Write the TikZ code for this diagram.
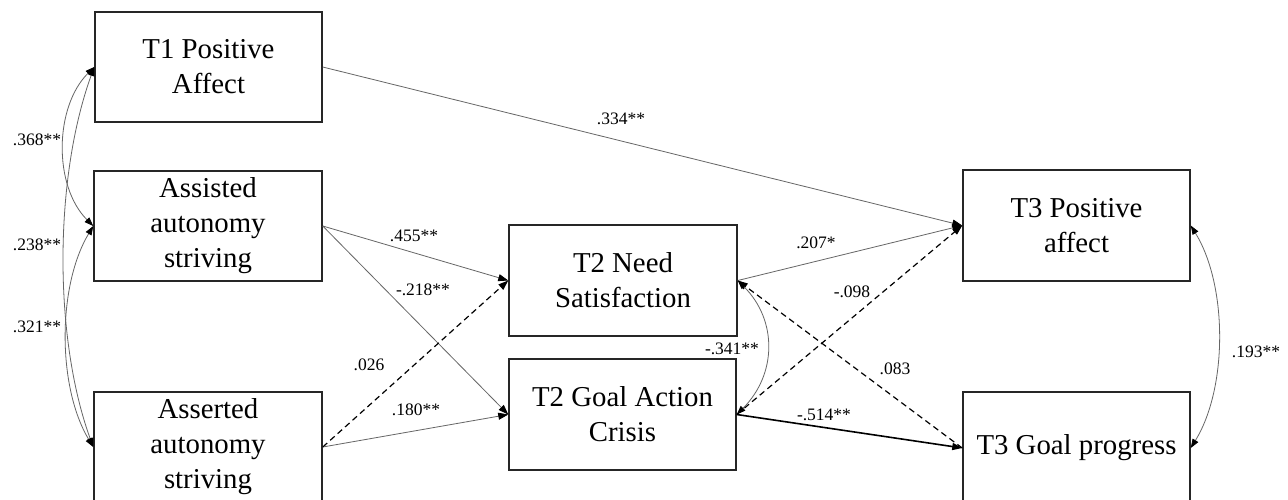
\documentclass[tikz,border=0pt]{standalone}
\usepackage{fontspec}
\setmainfont{Liberation Serif}
\usetikzlibrary{arrows.meta}
\begin{document}
\begin{tikzpicture}[x=1pt,y=-1pt,
  box/.style={draw=black!85, line width=1.5pt, inner sep=0pt, align=center,
    font=\fontsize{28.8}{35}\selectfont},
  lab/.style={font=\fontsize{17.5}{20}\selectfont, inner sep=0pt},
  arr/.style={-{Triangle[length=10pt,width=7pt,color=black]}, draw=black!60, line width=0.8pt},
  dbl/.style={{Triangle[length=9pt,width=6.5pt,color=black]}-{Triangle[length=9pt,width=6.5pt,color=black]}, draw=black!60, line width=0.8pt},
  dsh/.style={dash pattern=on 6pt off 4pt, draw=black, line width=1.2pt},
  thk/.style={draw=black, line width=1.6pt}]
\useasboundingbox (0,0) rectangle (1288,499);
\fill[white] (0,0) rectangle (1288,499);
% boxes
\node[box, minimum width=227, minimum height=110] (t1) at (208.5,67) {T1 Positive\\Affect};
\node[box, minimum width=228, minimum height=110] (as1) at (208,226) {Assisted\\autonomy\\striving};
\node[box, minimum width=228, minimum height=110] (as2) at (208,447) {Asserted\\autonomy\\striving};
\node[box, minimum width=228, minimum height=111] (ns) at (623,280.5) {T2 Need\\Satisfaction};
\node[box, minimum width=227, minimum height=111] (gac) at (622.5,414.5) {T2 Goal Action\\Crisis};
\node[box, minimum width=227, minimum height=111] (pa3) at (1076.5,225.5) {T3 Positive\\affect};
\node[box, minimum width=227, minimum height=112] (gp) at (1076.5,448) {T3 Goal progress};
% paths
\draw[arr] (t1.east) -- (pa3.west);
\draw[arr] (as1.east) -- (ns.west);
\draw[arr] (as1.east) -- (gac.west);
\draw[arr] (as2.east) -- (gac.west);
\draw[arr,dsh] (as2.east) -- (ns.west);
\draw[arr] (ns.east) -- (pa3.west);
\draw[arr,dsh] (gac.east) -- (pa3.west);
\draw[arr,dsh] (gp.west) -- (ns.east);
\draw[arr,thk] (gac.east) -- (gp.west);
% correlations
\draw[dbl] (t1.west) .. controls +(-40,40) and +(-40,-40) .. (as1.west);
\draw[dbl] (t1.west) .. controls +(-40,110) and +(-40,-110) .. (as2.west);
\draw[dbl] (as1.west) .. controls +(-36,60) and +(-36,-60) .. (as2.west);
\draw[dbl] (pa3.east) .. controls +(37,60) and +(37,-60) .. (gp.east);
\draw[dbl] (ns.east) .. controls +(40,40) and +(40,-40) .. (gac.east);
% labels
\node[lab] (l334) at (621,119) {.334**};
\node[lab] (l455) at (414,236) {.455**};
\node[lab] (l218) at (423,290) {-.218**};
\node[lab] (l026) at (369,365) {.026};
\node[lab] (l180) at (416,410) {.180**};
\node[lab] (l207) at (816,243) {.207*};
\node[lab] (l098) at (852,292) {-.098};
\node[lab] (l341) at (732,349) {-.341**};
\node[lab] (l083) at (895,369) {.083};
\node[lab] (l514) at (824,415) {-.514**};
\node[lab] (l368) at (37,140) {.368**};
\node[lab] (l238) at (37,245) {.238**};
\node[lab] (l321) at (37,327) {.321**};
\node[lab] (l193) at (1256,352) {.193**};
\end{tikzpicture}
\end{document}
